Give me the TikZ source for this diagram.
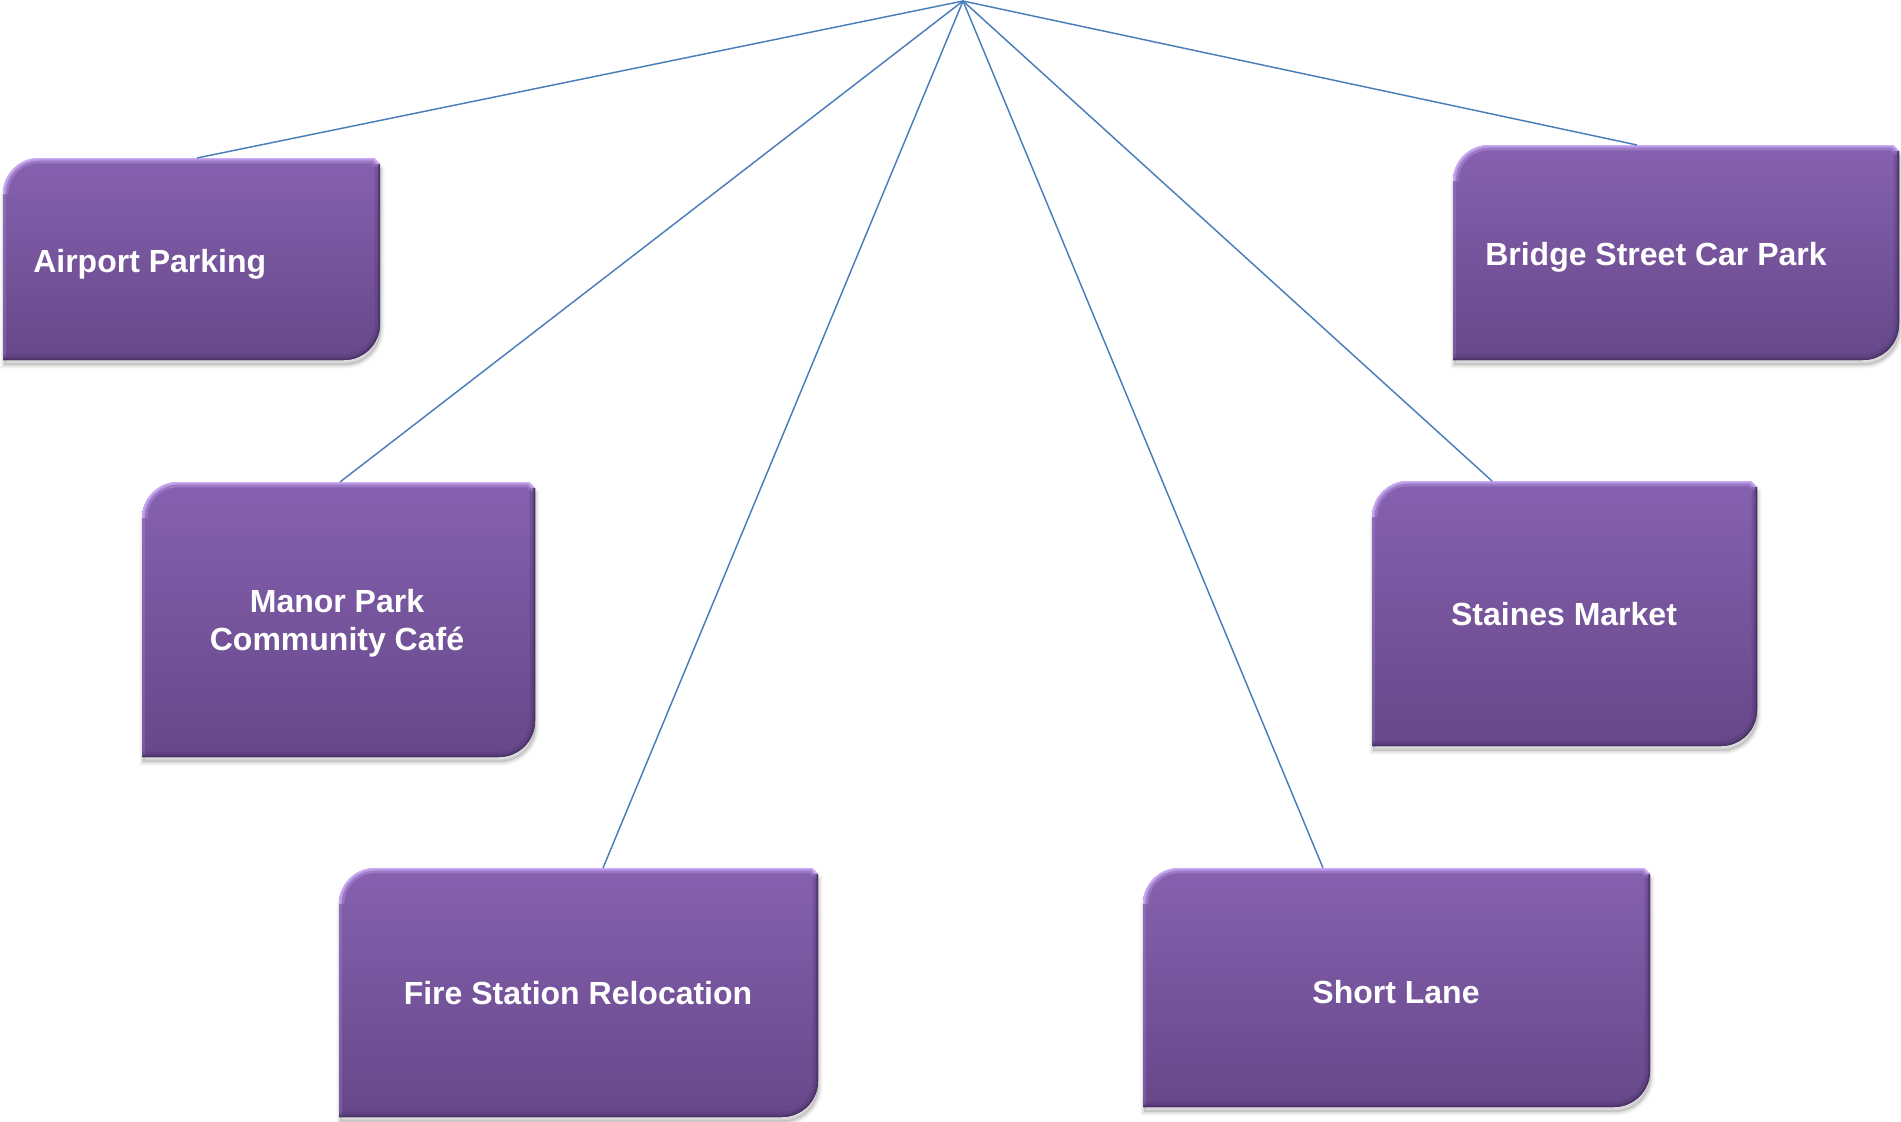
\documentclass[tikz,border=0pt]{standalone}
\usepackage{fontspec}
\setmainfont{Liberation Sans}
\usetikzlibrary{calc}

\definecolor{ptop}{HTML}{8661B0}
\definecolor{pbot}{HTML}{664889}
\definecolor{plight}{HTML}{CDAEF7}
\definecolor{pdark}{HTML}{4A3267}
\definecolor{linkblue}{HTML}{4A7EBB}

% \pbox{name}{x1}{y1}{x2}{y2}: bevelled purple box with two rounded
% diagonal corners and a small cut at the top right
\newcommand\pbox[5]{%
  \pgfmathsetmacro\xa{#2}\pgfmathsetmacro\ya{#3}%
  \pgfmathsetmacro\xb{#4}\pgfmathsetmacro\yb{#5}%
  \def\ra{36}%
  \pgfmathsetmacro\ka{0.448*\ra}%
  \def\ca{6}%
  \def\bp{(\xa,\yb) -- (\xa,{\ya+\ra}) .. controls (\xa,{\ya+\ka}) and ({\xa+\ka},\ya) .. ({\xa+\ra},\ya)
    -- ({\xb-\ca},\ya) -- (\xb,{\ya+\ca}) -- (\xb,{\yb-\ra})
    .. controls (\xb,{\yb-\ka}) and ({\xb-\ka},\yb) .. ({\xb-\ra},\yb) -- cycle}%
  % soft drop shadow
  \begin{scope}[shift={(1,5)}]
    \fill[black,opacity=0.12] \bp;
    \draw[black,opacity=0.05,line width=5pt] \bp;
    \draw[black,opacity=0.07,line width=2.5pt] \bp;
  \end{scope}
  % body
  \shade[top color=ptop,bottom color=pbot] \bp;
  % bevel edges
  \begin{scope}
    \clip \bp;
    \def\tp{(\xa,{\ya+\ra}) .. controls (\xa,{\ya+\ka}) and ({\xa+\ka},\ya) .. ({\xa+\ra},\ya)
      -- ({\xb-\ca},\ya) -- (\xb,{\ya+\ca})}%
    \def\btm{(\xb,{\ya+\ca}) -- (\xb,{\yb-\ra}) .. controls (\xb,{\yb-\ka}) and ({\xb-\ka},\yb) .. ({\xb-\ra},\yb) -- (\xa,\yb)}%
    \draw[plight,opacity=0.18,line width=5pt] (\xa,\yb) -- (\xa,{\ya+\ra});
    \draw[plight,opacity=0.30,line width=8pt] \tp;
    \draw[plight,opacity=0.60,line width=4pt] \tp;
    \draw[plight,line width=1.6pt] \tp;
    \draw[pdark,opacity=0.25,line width=8pt] \btm;
    \draw[pdark,opacity=0.55,line width=3.5pt] \btm;
    \draw[pdark,line width=1.2pt] \btm;
  \end{scope}
  \pgfmathsetmacro\bw{(#4-#2)*0.75}%
  \pgfmathsetmacro\bh{(#5-#3)*0.75}%
  \node[frame,minimum width=\bw pt,minimum height=\bh pt] (#1) at ({(#2+#4)/2},{(#3+#5)/2}) {};%
}

\begin{document}
\begin{tikzpicture}[x=0.75pt,y=-0.75pt,
  link/.style={draw=linkblue,line width=1.1pt},
  label/.style={text=white,font=\bfseries\fontsize{24}{28.5}\selectfont,inner sep=0pt},
  frame/.style={inner sep=0pt,outer sep=0pt}]
\useasboundingbox (0,0) rectangle (1901,1121);
\fill[white] (0,0) rectangle (1901,1121);

\coordinate (hub) at (963,1);

% boxes
\pbox{air}{3}{158}{380}{360}
\pbox{bridge}{1453}{145}{1899}{360}
\pbox{manor}{142}{482}{535}{757}
\pbox{staines}{1372}{481}{1757}{746}
\pbox{fire}{339}{868}{818}{1117}
\pbox{short}{1143}{868}{1650}{1107}

% labels
\node[label,anchor=base west] (air-t) at (33,272) {Airport Parking};
\node[label,anchor=base west] (bridge-t) at (1485,265) {Bridge Street Car Park};
\node[label,align=center] (manor-t) at (337,623) {Manor Park\\Community Café};
\node[label,anchor=base] (staines-t) at (1564,625) {Staines Market};
\node[label,anchor=base] (fire-t) at (578,1004) {Fire Station Relocation};
\node[label,anchor=base] (short-t) at (1396,1003) {Short Lane};

% connectors from the common hub
\draw[link] (hub) -- ($(air.north west)+(194,0)$);
\draw[link] (hub) -- ($(manor.north west)+(198,0)$);
\draw[link] (hub) -- ($(fire.north west)+(264,0)$);
\draw[link] (hub) -- ($(short.north west)+(180,0)$);
\draw[link] (hub) -- ($(staines.north west)+(120,0)$);
\draw[link] (hub) -- ($(bridge.north west)+(184,0)$);
\end{tikzpicture}
\end{document}
